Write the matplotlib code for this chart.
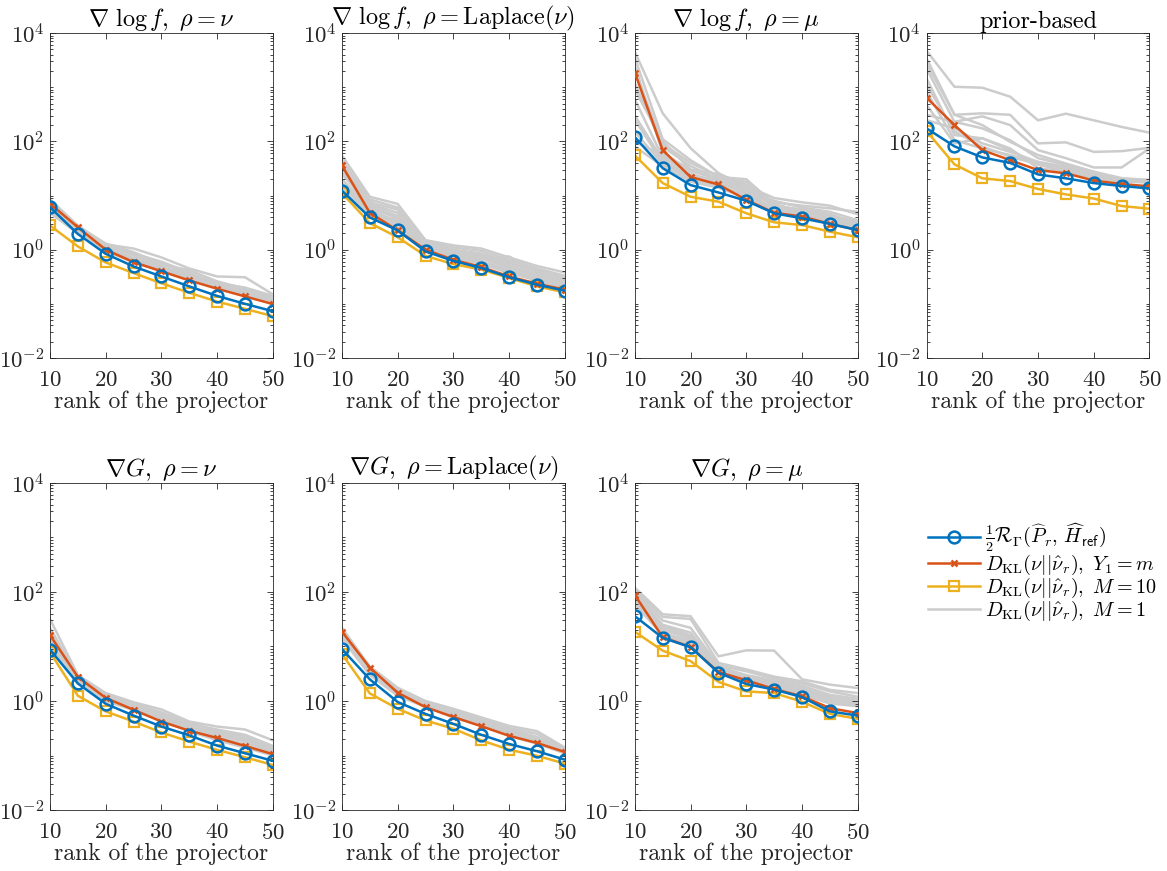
import numpy as np
import matplotlib.pyplot as plt
from matplotlib.ticker import LogLocator, NullFormatter

plt.rcParams['font.family'] = 'serif'
plt.rcParams['font.serif'] = ['cmr10']
plt.rcParams['mathtext.fontset'] = 'cm'
plt.rcParams['axes.formatter.use_mathtext'] = True

# rank of the projector
ranks = [10, 15, 20, 25, 30, 35, 40, 45, 50]

titles = [r'$\nabla\ \log f,\ \rho = \nu$',
          r'$\nabla\ \log f,\ \rho = \mathrm{Laplace}(\nu)$',
          r'$\nabla\ \log f,\ \rho = \mu$',
          'prior-based',
          r'$\nabla G,\ \rho = \nu$',
          r'$\nabla G,\ \rho = \mathrm{Laplace}(\nu)$',
          r'$\nabla G,\ \rho = \mu$']

# 1/2 R_Gamma(P_r, H_ref)
bound = [
    [6.1, 1.95, 0.84, 0.49, 0.32, 0.21, 0.14, 0.10, 0.073],
    [12.3, 3.95, 2.27, 0.93, 0.62, 0.46, 0.31, 0.226, 0.175],
    [120, 32, 15.6, 11.4, 8.0, 4.7, 3.8, 3.0, 2.3],
    [174, 81, 50.6, 40, 24.5, 20.8, 17, 15, 13.5],
    [8.8, 2.1, 0.89, 0.54, 0.34, 0.234, 0.152, 0.11, 0.08],
    [9.0, 2.5, 0.96, 0.58, 0.38, 0.24, 0.163, 0.12, 0.084],
    [36, 14.4, 9.7, 3.3, 2.05, 1.62, 1.18, 0.645, 0.54],
]

# D_KL, Y_1 = m
kl_m = [
    [7.1, 2.6, 1.0, 0.59, 0.40, 0.27, 0.19, 0.137, 0.099],
    [36, 4.8, 2.27, 1.0, 0.65, 0.48, 0.32, 0.236, 0.183],
    [1850, 69, 22, 16, 8.3, 4.8, 4.1, 3.0, 2.3],
    [640, 200, 69, 45, 29.5, 25.7, 19, 16.3, 14.8],
    [16.2, 2.77, 1.14, 0.69, 0.42, 0.285, 0.21, 0.15, 0.106],
    [18.8, 4.1, 1.42, 0.77, 0.51, 0.345, 0.23, 0.17, 0.116],
    [88, 14.8, 9.8, 3.4, 2.4, 1.66, 1.22, 0.74, 0.6],
]

# D_KL, M = 10
kl_10 = [
    [2.8, 1.15, 0.58, 0.37, 0.24, 0.16, 0.11, 0.081, 0.059],
    [11.1, 3.1, 1.7, 0.77, 0.54, 0.43, 0.30, 0.21, 0.163],
    [55, 17, 9.5, 7.7, 4.7, 3.2, 2.85, 2.15, 1.7],
    [155, 37.6, 20.8, 18.5, 13.2, 10.5, 8.8, 6.4, 5.7],
    [7.9, 1.25, 0.645, 0.42, 0.265, 0.18, 0.127, 0.093, 0.067],
    [7.3, 1.38, 0.72, 0.44, 0.31, 0.19, 0.128, 0.099, 0.071],
    [18.6, 8.4, 5.4, 2.24, 1.5, 1.4, 0.97, 0.58, 0.47],
]

# D_KL, M = 1 (one curve per repetition)
kl_1 = [
    [[8.5, 2.8, 1.25, 1.05, 0.72, 0.45, 0.32, 0.31, 0.15],
     [7.8, 2.6, 1.2, 0.78, 0.52, 0.42, 0.26, 0.19, 0.13],
     [7.0, 2.5, 1.1, 0.7, 0.48, 0.34, 0.24, 0.17, 0.12],
     [6.5, 2.3, 1.05, 0.66, 0.45, 0.31, 0.22, 0.16, 0.115],
     [5.8, 2.2, 1.0, 0.62, 0.42, 0.3, 0.21, 0.155, 0.11],
     [5.2, 2.1, 0.98, 0.6, 0.4, 0.29, 0.2, 0.15, 0.105],
     [4.8, 2.0, 1.15, 0.85, 0.6, 0.38, 0.23, 0.17, 0.12],
     [7.2, 2.4, 1.05, 0.65, 0.44, 0.33, 0.25, 0.18, 0.125],
     [6.0, 2.7, 1.3, 0.9, 0.55, 0.36, 0.24, 0.2, 0.14],
     [5.5, 2.35, 0.95, 0.58, 0.41, 0.28, 0.2, 0.145, 0.1]],
    [[55, 9.5, 7.0, 1.5, 1.2, 1.05, 0.72, 0.5, 0.38],
     [45, 8.5, 6.0, 1.4, 1.1, 0.95, 0.65, 0.45, 0.33],
     [38, 7.5, 5.5, 1.3, 1.0, 0.85, 0.6, 0.42, 0.3],
     [30, 7.0, 4.8, 1.25, 0.95, 0.8, 0.55, 0.4, 0.28],
     [25, 6.5, 4.2, 1.2, 0.9, 0.75, 0.5, 0.36, 0.26],
     [20, 6.0, 3.8, 1.15, 0.85, 0.7, 0.46, 0.33, 0.24],
     [17, 5.5, 3.3, 1.1, 0.8, 0.62, 0.42, 0.3, 0.22],
     [15, 5.0, 3.0, 1.05, 0.75, 0.58, 0.4, 0.28, 0.21],
     [13, 4.5, 2.7, 1.0, 0.7, 0.55, 0.37, 0.27, 0.2],
     [28, 8.0, 3.5, 1.35, 0.88, 0.66, 0.75, 0.38, 0.27]],
    [[4500, 330, 75, 26, 14, 6.5, 5.5, 4.5, 3.0],
     [3500, 110, 45, 22, 20, 7, 5, 4.2, 3.3],
     [2500, 60, 30, 25, 16, 6, 4.5, 3.8, 2.8],
     [1200, 80, 35, 20, 13, 8, 6, 5, 3.5],
     [600, 50, 25, 18, 12, 5.5, 4.8, 3.5, 2.6],
     [300, 45, 22, 20, 18, 7, 4.3, 3.2, 2.5],
     [250, 40, 20, 15, 10, 6, 5.5, 4.5, 2.9],
     [150, 38, 24, 17, 11, 5, 4.0, 3.4, 2.7],
     [100, 55, 28, 21, 15, 9, 7.5, 6.5, 4.5],
     [80, 35, 18, 14, 9, 5.2, 4.5, 3.6, 2.8],
     [2000, 90, 40, 23, 12, 6.8, 5.2, 4.0, 3.2],
     [900, 100, 30, 19, 14, 7.5, 6.5, 5.8, 5.0]],
    [[4700, 1020, 980, 670, 245, 325, 245, 185, 145],
     [3400, 310, 330, 310, 92, 96, 64, 66, 76],
     [310, 230, 290, 200, 69, 49, 33, 33, 74],
     [2200, 230, 174, 105, 49, 37, 27.5, 19.3, 18],
     [1450, 131, 114, 69, 37, 29.5, 22, 18, 18.5],
     [247, 174, 92, 64, 42, 34, 25.7, 20, 19.3],
     [830, 106, 74, 56, 39, 32, 24, 18.5, 17.5],
     [470, 92, 114, 74, 32, 27.5, 22, 19, 18],
     [2750, 310, 200, 98, 56, 39, 27.5, 21, 19.3],
     [1100, 152, 80, 52, 38, 27.5, 21.4, 18, 17.5]],
    [[32, 3.0, 1.4, 0.95, 0.7, 0.42, 0.34, 0.3, 0.19],
     [22, 2.9, 1.3, 0.9, 0.62, 0.38, 0.3, 0.24, 0.15],
     [18, 2.8, 1.25, 0.85, 0.55, 0.35, 0.26, 0.2, 0.13],
     [15, 2.7, 1.2, 0.8, 0.5, 0.33, 0.24, 0.18, 0.12],
     [13, 2.6, 1.15, 0.75, 0.48, 0.31, 0.22, 0.16, 0.115],
     [11, 2.5, 1.1, 0.72, 0.46, 0.3, 0.21, 0.155, 0.11],
     [10, 2.4, 1.05, 0.7, 0.44, 0.29, 0.2, 0.15, 0.105],
     [9.5, 2.3, 1.0, 0.68, 0.43, 0.28, 0.19, 0.14, 0.1],
     [20, 2.75, 1.35, 0.88, 0.6, 0.4, 0.28, 0.22, 0.14],
     [12, 2.55, 1.1, 0.78, 0.52, 0.34, 0.25, 0.19, 0.125]],
    [[22, 4.3, 1.75, 1.0, 0.72, 0.5, 0.35, 0.28, 0.14],
     [20, 4.1, 1.6, 0.95, 0.65, 0.45, 0.3, 0.22, 0.13],
     [19, 4.0, 1.5, 0.9, 0.6, 0.42, 0.28, 0.2, 0.125],
     [18, 3.8, 1.45, 0.87, 0.58, 0.4, 0.26, 0.19, 0.12],
     [17, 3.6, 1.4, 0.85, 0.56, 0.38, 0.25, 0.18, 0.118],
     [16, 3.4, 1.35, 0.82, 0.54, 0.37, 0.24, 0.175, 0.115],
     [15, 3.2, 1.3, 0.8, 0.52, 0.36, 0.235, 0.17, 0.112],
     [14, 3.0, 1.25, 0.78, 0.5, 0.35, 0.23, 0.165, 0.11],
     [21, 3.9, 1.55, 0.98, 0.68, 0.47, 0.32, 0.25, 0.13],
     [16.5, 3.5, 1.38, 0.92, 0.62, 0.44, 0.29, 0.21, 0.12]],
    [[120, 39, 36, 6.6, 8.5, 8.4, 2.5, 2.0, 1.73],
     [110, 35, 32, 5.0, 3.8, 2.8, 2.3, 1.6, 1.4],
     [100, 30, 22, 4.5, 3.5, 2.6, 2.1, 1.5, 1.2],
     [95, 25, 18, 4.2, 3.0, 2.4, 1.9, 1.3, 1.1],
     [90, 22, 15, 3.8, 2.8, 2.2, 1.8, 1.2, 1.0],
     [85, 20, 14, 3.6, 2.6, 2.1, 1.6, 1.1, 0.95],
     [80, 18, 12, 3.5, 2.5, 2.0, 1.5, 1.0, 0.9],
     [70, 17, 13, 3.3, 2.4, 1.9, 1.4, 0.95, 0.85],
     [60, 16, 11, 3.4, 2.3, 1.8, 1.3, 0.9, 0.8],
     [50, 24, 16, 4.0, 2.7, 2.1, 1.7, 1.15, 0.9]],
]

blue = '#0072BD'
red = '#D95319'
yellow = '#EDB120'
gray = '#CCCCCC'
dark = '#262626'

fig = plt.figure(figsize=(11.67, 8.71), dpi=100)

lefts = [0.0428, 0.293, 0.544, 0.794]
w = 0.191
boxes = [[l, 0.589, w, 0.373] for l in lefts] + \
        [[l, 0.070, w, 0.3755] for l in lefts[:3]]

for i in range(7):
    ax = fig.add_axes(boxes[i])
    for g in kl_1[i]:
        hg, = ax.plot(ranks, g, color=gray, linewidth=1.8, zorder=1)
    hy, = ax.plot(ranks, kl_10[i], color=yellow, linewidth=1.8, marker='s',
                  markersize=7.5, markerfacecolor='none', markeredgewidth=1.6, zorder=2)
    hr, = ax.plot(ranks, kl_m[i], color=red, linewidth=1.8, marker='x',
                  markersize=5, markeredgewidth=1.8, zorder=3)
    hb, = ax.plot(ranks, bound[i], color=blue, linewidth=1.8, marker='o',
                  markersize=8.5, markerfacecolor='none', markeredgewidth=1.8, zorder=4)

    ax.set_yscale('log')
    ax.set_ylim(1e-2, 1e4)
    ax.set_xlim(10, 50)
    ax.set_xticks([10, 20, 30, 40, 50])
    ax.set_yticks([1e-2, 1e0, 1e2, 1e4])
    ax.yaxis.set_minor_locator(LogLocator(base=10, subs=np.arange(1, 10), numticks=20))
    ax.yaxis.set_minor_formatter(NullFormatter())
    ax.tick_params(which='both', direction='in', top=True, right=True,
                   colors=dark, labelsize=16.5, width=0.6)
    ax.tick_params(which='major', length=4.5)
    ax.tick_params(which='minor', length=2.5)
    ax.tick_params(axis='x', pad=9)
    ax.tick_params(axis='y', pad=4)
    for s in ax.spines.values():
        s.set_color(dark)
        s.set_linewidth(0.6)
    ax.set_title(titles[i], fontsize=17.5, color='black', pad=4)
    ax.set_xlabel('rank of the projector', fontsize=17, color=dark, labelpad=0)

labels = [r'$\frac{1}{2}\mathcal{R}_\Gamma(\widehat{P}_r,\, \widehat{H}_{\mathsf{ref}})$',
          r'$D_{\mathrm{KL}}(\nu||\hat{\nu}_r),\ Y_1 = m$',
          r'$D_{\mathrm{KL}}(\nu||\hat{\nu}_r),\ M = 10$',
          r'$D_{\mathrm{KL}}(\nu||\hat{\nu}_r),\ M = 1$']
fig.legend([hb, hr, hy, hg], labels, loc='upper left',
           bbox_to_anchor=(920 / 1167, 1 - 514 / 871), frameon=False,
           fontsize=14.5, handlelength=2.6, handletextpad=0.25, labelspacing=-0.05,
           borderaxespad=0)

fig.savefig('out.png', dpi=100)
